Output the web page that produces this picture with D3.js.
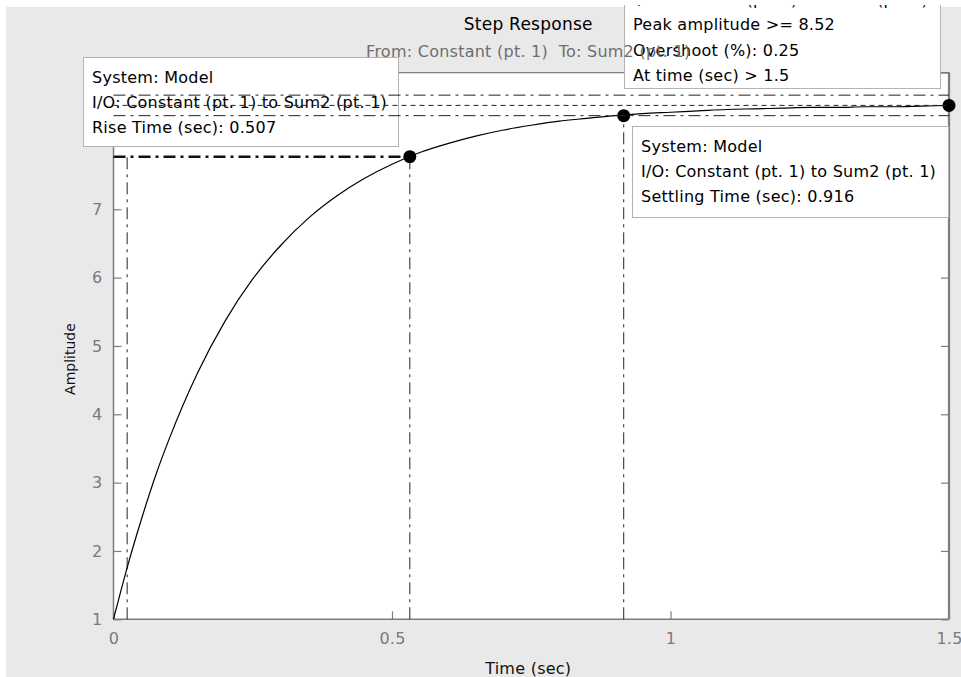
<!DOCTYPE html>
<html>
<head>
<meta charset="utf-8">
<script src="https://cdn.jsdelivr.net/npm/d3@7"></script>
<style>
  html, body { margin: 0; padding: 0; background: #ffffff; }
  svg { display: block; }
  text { font-family: "DejaVu Sans", sans-serif; }
</style>
</head>
<body>
<svg id="chart" width="961" height="677"></svg>
<script>
// ---------------- data ----------------
const timeSec   = [0, 0.025, 0.05, 0.075, 0.1, 0.15, 0.2, 0.25, 0.3, 0.35, 0.4, 0.45, 0.5, 0.55, 0.6, 0.65, 0.7, 0.75, 0.8, 0.85, 0.9, 0.95, 1.0, 1.05, 1.1, 1.15, 1.2, 1.25, 1.3, 1.35, 1.4, 1.45, 1.5];
const amplitude = [1.00, 1.77, 2.46, 3.09, 3.64, 4.59, 5.36, 5.98, 6.47, 6.87, 7.19, 7.45, 7.66, 7.83, 7.96, 8.07, 8.16, 8.23, 8.29, 8.33, 8.37, 8.40, 8.42, 8.44, 8.46, 8.47, 8.48, 8.49, 8.49, 8.50, 8.50, 8.51, 8.52];
const xTicks = [0, 0.5, 1, 1.5];
const xTickLabels = ["0", "0.5", "1", "1.5"];
const yTicks = [1, 2, 3, 4, 5, 6, 7, 8, 9];
const yTickLabels = ["1", "2", "3", "4", "5", "6", "7", "8", "9"];
const xDomain = [0, 1.5];
const yDomain = [1, 9];

// characteristic points
const riseStart = { t: 0.0245, v: 1.75 };
const risePoint = { t: 0.532, v: 7.77 };
const settlePoint = { t: 0.916, v: 8.37 };
const peakPoint = { t: 1.5, v: 8.52 };
const finalValue = 8.52;
const settleBand = [8.37, 8.67];

// texts
const titleText = "Step Response";
const subtitleText = "From: Constant (pt. 1)  To: Sum2 (pt. 1)";
const xLabel = "Time (sec)";
const yLabel = "Amplitude";
const riseBoxLines = ["System: Model", "I/O: Constant (pt. 1) to Sum2 (pt. 1)", "Rise Time (sec): 0.507"];
const settleBoxLines = ["System: Model", "I/O: Constant (pt. 1) to Sum2 (pt. 1)", "Settling Time (sec): 0.916"];
const peakBoxLines = ["System: Model", "I/O: Constant (pt. 1) to Sum2 (pt. 1)", "Peak amplitude >= 8.52", "Overshoot (%): 0.25", "At time (sec) > 1.5"];

// ---------------- drawing ----------------
(function () {
const svg = d3.select("#chart");
const W = 961, H = 677;
const pL = 113.5, pR = 949, pT = 72.6, pB = 619.3;

const x = d3.scaleLinear().domain(xDomain).range([pL, pR]);
const y = d3.scaleLinear().domain(yDomain).range([pB, pT]);

const axisGray = "#7d7d7d";
const labelGray = "#7a7a7a";
const dashDot = "12,5,3,5";
const fontSize = 16;
const ls = 0.25;

// figure background
svg.append("rect").attr("x", 0).attr("y", 0).attr("width", W).attr("height", H).attr("fill", "#ffffff");
svg.append("rect").attr("x", 6).attr("y", 7).attr("width", W - 6).attr("height", H - 7).attr("fill", "#e9e9e9");

// plot area
svg.append("rect").attr("x", pL).attr("y", pT).attr("width", pR - pL).attr("height", pB - pT).attr("fill", "#ffffff");

// axes with inward ticks
function styleAxis(g) {
  g.select(".domain").remove();
  g.selectAll(".tick line").attr("stroke", axisGray).attr("stroke-width", 1.2);
  g.selectAll(".tick text").attr("fill", labelGray).style("font-size", fontSize + "px").style("letter-spacing", ls + "px").attr("font-family", "DejaVu Sans");
}
svg.append("g").attr("transform", `translate(0,${pB})`)
  .call(d3.axisBottom(x).tickValues(xTicks).tickFormat((d, i) => xTickLabels[i]).tickSizeInner(-8).tickSizeOuter(0).tickPadding(13))
  .call(styleAxis);
svg.append("g").attr("transform", `translate(${pL},0)`)
  .call(d3.axisLeft(y).tickValues(yTicks).tickFormat((d, i) => yTickLabels[i]).tickSizeInner(-8).tickSizeOuter(0).tickPadding(11))
  .call(styleAxis);
svg.append("g").attr("transform", `translate(0,${pT})`)
  .call(d3.axisTop(x).tickValues(xTicks).tickFormat("").tickSizeInner(-8).tickSizeOuter(0))
  .call(styleAxis);
svg.append("g").attr("transform", `translate(${pR},0)`)
  .call(d3.axisRight(y).tickValues(yTicks).tickFormat("").tickSizeInner(-8).tickSizeOuter(0))
  .call(styleAxis);

// frame
svg.append("line").attr("x1", pL).attr("x2", pR).attr("y1", pB).attr("y2", pB).attr("stroke", axisGray).attr("stroke-width", 1.5);
svg.append("line").attr("x1", pL).attr("x2", pL).attr("y1", pT).attr("y2", pB).attr("stroke", axisGray).attr("stroke-width", 1.5);
svg.append("line").attr("x1", pL).attr("x2", pR).attr("y1", pT).attr("y2", pT).attr("stroke", axisGray).attr("stroke-width", 1.2);
svg.append("line").attr("x1", pR).attr("x2", pR).attr("y1", pT).attr("y2", pB).attr("stroke", axisGray).attr("stroke-width", 2.2);

// rise-time markers
svg.append("line").attr("x1", x(riseStart.t)).attr("x2", x(riseStart.t)).attr("y1", y(yDomain[0])).attr("y2", y(risePoint.v))
  .attr("stroke", "#222").attr("stroke-width", 1).attr("stroke-dasharray", dashDot);
svg.append("line").attr("x1", x(risePoint.t)).attr("x2", x(risePoint.t)).attr("y1", y(yDomain[0])).attr("y2", y(risePoint.v))
  .attr("stroke", "#222").attr("stroke-width", 1).attr("stroke-dasharray", dashDot);
svg.append("line").attr("x1", x(xDomain[0])).attr("x2", x(risePoint.t)).attr("y1", y(risePoint.v)).attr("y2", y(risePoint.v))
  .attr("stroke", "#111").attr("stroke-width", 2.5).attr("stroke-dasharray", dashDot);
// settling vertical
svg.append("line").attr("x1", x(settlePoint.t)).attr("x2", x(settlePoint.t)).attr("y1", y(yDomain[0])).attr("y2", y(settlePoint.v))
  .attr("stroke", "#222").attr("stroke-width", 1).attr("stroke-dasharray", dashDot);

// response curve
const line = d3.line().x((d, i) => x(timeSec[i])).y(d => y(d)).curve(d3.curveMonotoneX);
svg.append("path").datum(amplitude).attr("d", line).attr("fill", "none").attr("stroke", "#000").attr("stroke-width", 1.2);

// markers
[risePoint, settlePoint, peakPoint].forEach(p => {
  svg.append("circle").attr("cx", x(p.t)).attr("cy", y(p.v)).attr("r", 6.5).attr("fill", "#000");
});

// data tip boxes
function dataTip(x0, y0, x1, y1, lines, firstBaseline, step) {
  const g = svg.append("g");
  g.append("rect").attr("x", x0 + 0.5).attr("y", y0 + 0.5).attr("width", x1 - x0).attr("height", y1 - y0)
    .attr("fill", "#ffffff").attr("stroke", "#b3b3b3").attr("stroke-width", 1);
  lines.forEach((t, i) => {
    g.append("text").attr("x", x0 + 9).attr("y", firstBaseline + i * step)
      .attr("fill", "#000").style("font-size", fontSize + "px").style("letter-spacing", ls + "px").text(t);
  });
}
dataTip(83, 57, 398, 146, riseBoxLines, 83, 25);
dataTip(624, -60, 940, 88, peakBoxLines, -21, 25.5);
dataTip(632, 126, 948, 217, settleBoxLines, 152, 25);

// settling band and final value lines (drawn over the tips)
settleBand.forEach(v => {
  svg.append("line").attr("x1", x(xDomain[0])).attr("x2", x(xDomain[1])).attr("y1", y(v)).attr("y2", y(v))
    .attr("stroke", "#222").attr("stroke-width", 1).attr("stroke-dasharray", dashDot);
});
svg.append("line").attr("x1", x(xDomain[0])).attr("x2", x(xDomain[1])).attr("y1", y(finalValue)).attr("y2", y(finalValue))
  .attr("stroke", "#222").attr("stroke-width", 1).attr("stroke-dasharray", "5,4");

// titles and labels
const cx = (pL + pR) / 2 - 3;
svg.append("text").attr("x", cx).attr("y", 30).attr("text-anchor", "middle").attr("fill", "#000")
  .style("font-size", "17px").style("letter-spacing", ls + "px").text(titleText);
svg.append("text").attr("x", cx).attr("y", 57).attr("text-anchor", "middle").attr("fill", "#6e6e6e")
  .style("white-space", "pre").attr("xml:space", "preserve")
  .style("font-size", fontSize + "px").style("letter-spacing", ls + "px").text(subtitleText);
svg.append("text").attr("x", cx).attr("y", 674).attr("text-anchor", "middle").attr("fill", "#111")
  .style("font-size", fontSize + "px").style("letter-spacing", ls + "px").text(xLabel);
svg.append("text").attr("transform", `translate(75,359) rotate(-90)`).attr("text-anchor", "middle").attr("fill", "#111")
  .style("font-size", "14px").text(yLabel);

// white top margin of the screenshot (covers the clipped data tip line)
svg.append("rect").attr("x", 0).attr("y", 0).attr("width", W).attr("height", 5).attr("fill", "#ffffff");
})();
</script>
</body>
</html>
